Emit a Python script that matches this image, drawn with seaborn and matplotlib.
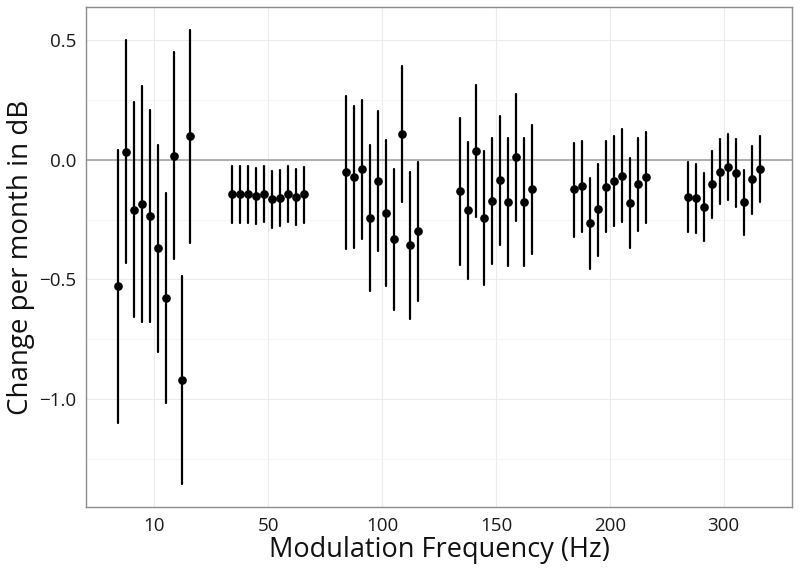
import numpy as np
import pandas as pd
import matplotlib
matplotlib.use("Agg")
import matplotlib.pyplot as plt
from matplotlib.ticker import MultipleLocator
import seaborn as sns

freqs = ["10", "50", "100", "150", "200", "300"]

est_10 = [-0.528, 0.035, -0.208, -0.183, -0.233, -0.370, -0.577, 0.018, -0.922, 0.100]
lo_10 = [-1.099, -0.432, -0.658, -0.678, -0.678, -0.803, -1.018, -0.416, -1.357, -0.349]
hi_10 = [0.040, 0.500, 0.241, 0.311, 0.211, 0.063, -0.139, 0.451, -0.487, 0.545]

est_50 = [-0.144, -0.144, -0.144, -0.149, -0.141, -0.165, -0.159, -0.142, -0.156, -0.144]
lo_50 = [-0.262, -0.262, -0.262, -0.268, -0.260, -0.283, -0.277, -0.260, -0.274, -0.262]
hi_50 = [-0.027, -0.027, -0.027, -0.032, -0.025, -0.047, -0.042, -0.025, -0.039, -0.029]

est_100 = [-0.050, -0.070, -0.038, -0.243, -0.089, -0.222, -0.332, 0.110, -0.356, -0.297]
lo_100 = [-0.372, -0.367, -0.329, -0.547, -0.382, -0.527, -0.629, -0.176, -0.664, -0.589]
hi_100 = [0.269, 0.226, 0.252, 0.061, 0.204, 0.082, -0.038, 0.395, -0.049, -0.008]

est_150 = [-0.130, -0.211, 0.039, -0.243, -0.173, -0.084, -0.174, 0.013, -0.174, -0.121]
lo_150 = [-0.439, -0.497, -0.237, -0.524, -0.436, -0.354, -0.442, -0.254, -0.442, -0.392]
hi_150 = [0.176, 0.074, 0.312, 0.036, 0.093, 0.185, 0.093, 0.276, 0.091, 0.146]

est_200 = [-0.123, -0.109, -0.265, -0.206, -0.112, -0.087, -0.066, -0.179, -0.102, -0.072]
lo_200 = [-0.321, -0.301, -0.456, -0.400, -0.303, -0.276, -0.259, -0.368, -0.297, -0.262]
hi_200 = [0.072, 0.079, -0.077, -0.015, 0.078, 0.100, 0.128, 0.008, 0.092, 0.116]

est_300 = [-0.153, -0.159, -0.195, -0.100, -0.049, -0.028, -0.053, -0.177, -0.081, -0.036]
lo_300 = [-0.300, -0.304, -0.338, -0.243, -0.185, -0.169, -0.195, -0.315, -0.225, -0.174]
hi_300 = [-0.008, -0.017, -0.053, 0.039, 0.088, 0.109, 0.087, -0.042, 0.059, 0.100]

groups = {
    "10": (est_10, lo_10, hi_10),
    "50": (est_50, lo_50, hi_50),
    "100": (est_100, lo_100, hi_100),
    "150": (est_150, lo_150, hi_150),
    "200": (est_200, lo_200, hi_200),
    "300": (est_300, lo_300, hi_300),
}

rows = []
for f in freqs:
    e, l, h = groups[f]
    for i in range(len(e)):
        for v in (l[i], e[i], h[i]):
            rows.append({"freq": f, "cond": str(i), "value": v})
df = pd.DataFrame(rows)

sns.set_style("whitegrid")
plt.rcParams["font.family"] = ["Open Sans", "DejaVu Sans"]

fig = plt.figure(figsize=(8, 5.7), dpi=100)
ax = fig.add_axes([0.1075, 0.1105, 0.8825, 0.8772])

ax.axhline(0, color="#a9a9a9", lw=1.3, zorder=1)

sns.pointplot(
    data=df, x="freq", y="value", hue="cond", order=freqs,
    hue_order=[str(i) for i in range(10)],
    palette=["black"] * 10, estimator=np.median,
    errorbar=lambda x: (np.min(x), np.max(x)),
    dodge=0.63, linestyle="none", markers="o", markersize=4.2,
    err_kws={"linewidth": 1.6}, legend=False, ax=ax,
)

ax.set_xlim(-0.6, 5.6)
ax.set_ylim(-1.452, 0.64)
ax.yaxis.set_major_locator(MultipleLocator(0.5))
ax.yaxis.set_minor_locator(MultipleLocator(0.25))
ax.set_yticks([0.5, 0.0, -0.5, -1.0])
ax.set_yticklabels(["0.5", "0.0", "\u22120.5", "\u22121.0"])

ax.grid(which="major", color="#ebebeb", lw=0.8)
ax.grid(which="minor", axis="y", color="#f3f3f3", lw=0.6)
ax.set_axisbelow(True)
for s in ax.spines.values():
    s.set_visible(True)
    s.set_color("#8c8c8c")
    s.set_linewidth(1.0)

ax.tick_params(axis="both", which="major", direction="out", length=4,
               width=1, color="#333333", labelsize=13.5, labelcolor="#1a1a1a", pad=3)
ax.tick_params(axis="y", which="minor", length=0)

ax.set_xlabel("Modulation Frequency (Hz)", fontsize=19.5, color="#111111", labelpad=1)
ax.set_ylabel("Change per month in dB", fontsize=20, color="#111111", labelpad=3)

fig.savefig("out.png", dpi=100)
